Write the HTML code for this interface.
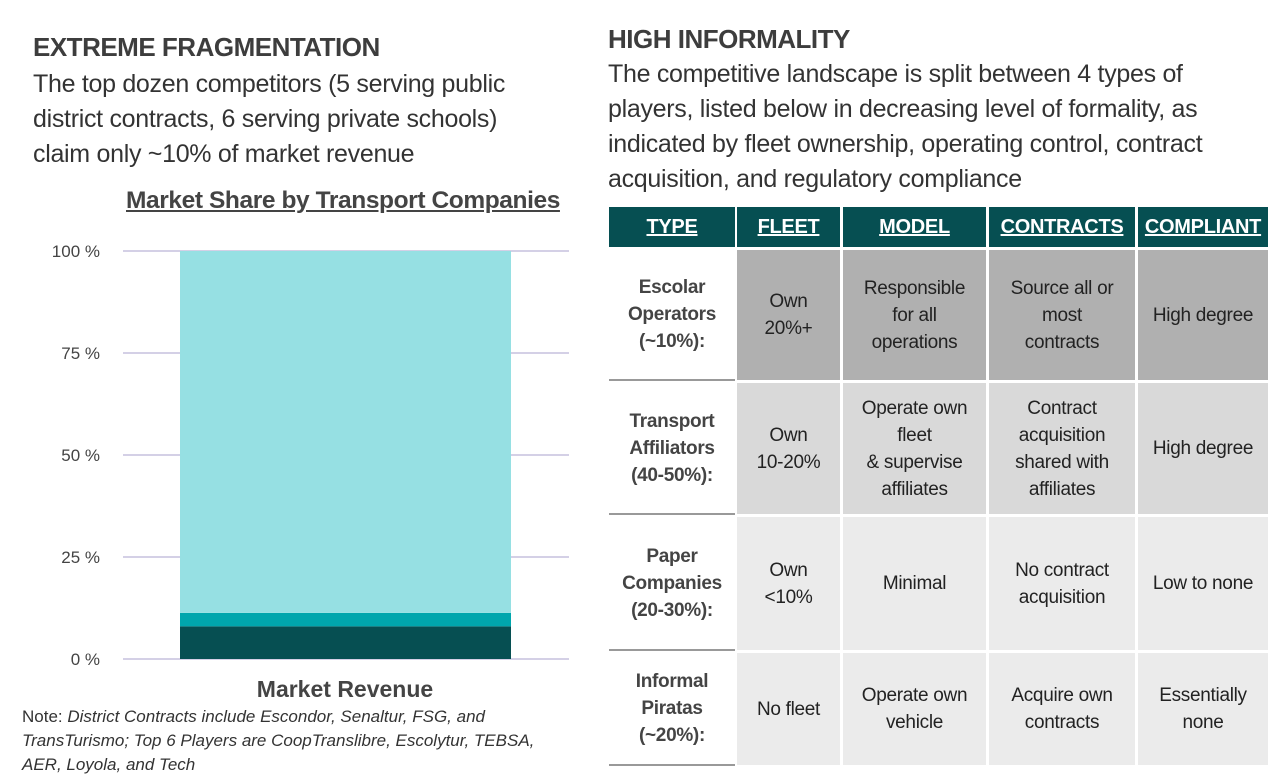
<!DOCTYPE html>
<html><head><meta charset="utf-8"><style>
body{margin:0;width:1284px;height:777px;background:#fff;font-family:"Liberation Sans",sans-serif;color:#3a3a3a;position:relative;overflow:hidden}
.abs{position:absolute;white-space:nowrap}
h2{margin:0;font-size:26px;font-weight:bold;color:#3d3d3d;letter-spacing:-0.5px}
.sub{font-size:25px;line-height:35px;color:#333;letter-spacing:-0.3px}
.cell{position:absolute;display:flex;align-items:center;justify-content:center;text-align:center;font-size:19px;line-height:27px;color:#222;letter-spacing:-0.3px}
.hd{background:#064f52;color:#fff;font-weight:bold;text-decoration:underline;font-size:20px}
.ty{font-weight:bold;color:#444;border-bottom:2px solid #999;background:#fff}
</style></head><body>
<h2 class="abs" style="left:33px;top:32px">EXTREME FRAGMENTATION</h2>
<div class="abs sub" style="left:33px;top:67px">The top dozen competitors (5 serving public<br>district contracts, 6 serving private schools)<br>claim only ~10% of market revenue</div>
<div class="abs" style="left:126px;top:187px;font-size:24.5px;font-weight:bold;text-decoration:underline;color:#444;letter-spacing:-0.4px">Market Share by Transport Companies</div>
<svg class="abs" id="chart" style="left:0;top:230px" width="600" height="470"></svg>
<div class="abs" style="left:22px;top:705px;font-size:17px;line-height:24px;color:#333">Note: <i>District Contracts include Escondor, Senaltur, FSG, and<br>TransTurismo; Top 6 Players are CoopTranslibre, Escolytur, TEBSA,<br>AER, Loyola, and Tech</i></div>

<h2 class="abs" style="left:608px;top:24px">HIGH INFORMALITY</h2>
<div class="abs sub" style="left:608px;top:57px">The competitive landscape is split between 4 types of<br>players, listed below in decreasing level of formality, as<br>indicated by fleet ownership, operating control, contract<br>acquisition, and regulatory compliance</div>
<div id="tbl"></div>
<script>
const cats=["Market Revenue"];
const seriesNames=["District Contracts","Top 6 Players","Others"];
const seriesValues=[8,3.3,88.7];
const seriesColors=["#064f52","#00a6ad","#96e0e3"];
const ticks=[0,25,50,75,100];
const svg=document.getElementById('chart');
const NS="http://www.w3.org/2000/svg";
const y=v=>429-v*4.08;
function mk(t,a){const e=document.createElementNS(NS,t);for(const k in a)e.setAttribute(k,a[k]);svg.appendChild(e);return e;}
ticks.forEach(t=>{const l=mk('line',{x1:123,x2:569,y1:y(t),y2:y(t),stroke:'#d4d0e6','stroke-width':2});


const tx=mk('text',{x:100,y:y(t)+6,'text-anchor':'end','font-size':17,fill:'#444','font-family':'Liberation Sans'});tx.textContent=t+' %';

});
let acc=0;
seriesValues.forEach((v,i)=>{const r=mk('rect',{x:180,width:331,y:y(acc+v),height:v*4.08,fill:seriesColors[i]});

acc+=v;});
const xl=mk('text',{x:345,y:467,'text-anchor':'middle','font-size':23,'font-weight':'bold',fill:'#444','font-family':'Liberation Sans'});xl.textContent=cats[0];



const cols=[[609,126],[737,103],[843,143],[989,146],[1138,130]];
const hdr=["TYPE","FLEET","MODEL","CONTRACTS","COMPLIANT"];
const rows=[[250,130,'#b0b0b0',["Escolar<br>Operators<br>(~10%):","Own<br>20%+","Responsible<br>for all<br>operations","Source all or<br>most<br>contracts","High degree"]],
[383,131,'#d9d9d9',["Transport<br>Affiliators<br>(40-50%):","Own<br>10-20%","Operate own<br>fleet<br>&amp; supervise<br>affiliates","Contract<br>acquisition<br>shared with<br>affiliates","High degree"]],
[517,133,'#ebebeb',["Paper<br>Companies<br>(20-30%):","Own<br>&lt;10%","Minimal","No contract<br>acquisition","Low to none"]],
[653,112,'#ebebeb',["Informal<br>Piratas<br>(~20%):","No fleet","Operate own<br>vehicle","Acquire own<br>contracts","Essentially<br>none"]]];
const tb=document.getElementById('tbl');let h='';
cols.forEach((c,i)=>{h+=`<div class="cell hd" style="left:${c[0]}px;top:207px;width:${c[1]}px;height:40px">${hdr[i]}</div>`;});
rows.forEach((r,ri)=>{cols.forEach((c,i)=>{
 if(i==0)h+=`<div class="cell ty" style="left:${c[0]}px;top:${r[0]}px;width:${c[1]}px;height:${r[1]-1}px">${r[3][0]}</div>`;
 else h+=`<div class="cell" style="left:${c[0]}px;top:${r[0]}px;width:${c[1]}px;height:${r[1]}px;background:${r[2]}">${r[3][i]}</div>`;
});});
tb.innerHTML=h;
</script>
</body></html>
